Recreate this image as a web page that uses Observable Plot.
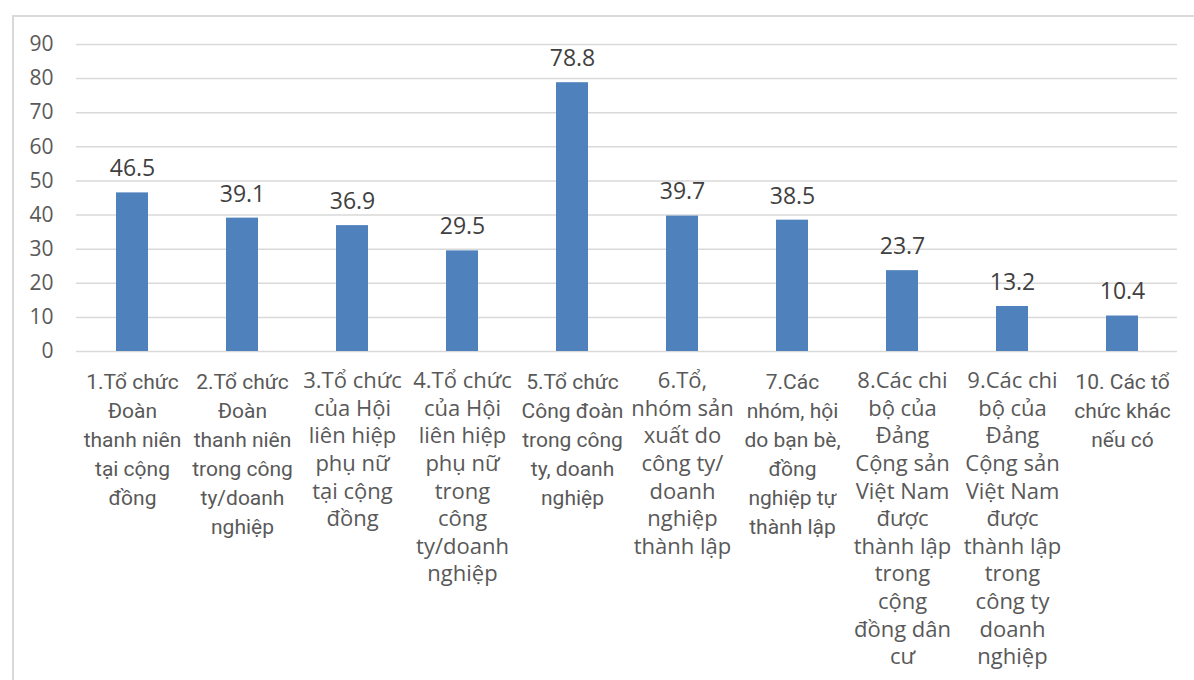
<!DOCTYPE html>
<html>
<head>
<meta charset="utf-8">
<script src="https://cdn.jsdelivr.net/npm/d3@7"></script>
<script src="https://cdn.jsdelivr.net/npm/@observablehq/plot@0.6"></script>
<style>
  html, body { margin: 0; padding: 0; background: #fff; overflow: hidden; }
  #wrap { position: relative; width: 1194px; height: 680px; }
  #frame { position: absolute; left: 12px; top: 15px; width: 1300px; height: 800px;
           border: 2px solid #d9d9d9; box-sizing: border-box; }
  #chart { position: absolute; left: 0; top: 0; }
</style>
</head>
<body>
<div id="wrap"><div id="frame"></div><div id="chart"></div></div>
<script>
// ---- data ----
const categories = [
  "1.Tổ chức\nĐoàn\nthanh niên\ntại cộng\nđồng",
  "2.Tổ chức\nĐoàn\nthanh niên\ntrong công\nty/doanh\nnghiệp",
  "3.Tổ chức\ncủa Hội\nliên hiệp\nphụ nữ\ntại cộng\nđồng",
  "4.Tổ chức\ncủa Hội\nliên hiệp\nphụ nữ\ntrong\ncông\nty/doanh\nnghiệp",
  "5.Tổ chức\nCông đoàn\ntrong công\nty, doanh\nnghiệp",
  "6.Tổ,\nnhóm sản\nxuất do\ncông ty/\ndoanh\nnghiệp\nthành lập",
  "7.Các\nnhóm, hội\ndo bạn bè,\nđồng\nnghiệp tự\nthành lập",
  "8.Các chi\nbộ của\nĐảng\nCộng sản\nViệt Nam\nđược\nthành lập\ntrong\ncộng\nđồng dân\ncư",
  "9.Các chi\nbộ của\nĐảng\nCộng sản\nViệt Nam\nđược\nthành lập\ntrong\ncông ty\ndoanh\nnghiệp",
  "10. Các tổ\nchức khác\nnếu có"
];
const values = [46.5, 39.1, 36.9, 29.5, 78.8, 39.7, 38.5, 23.7, 13.2, 10.4];
const yTicks = [0, 10, 20, 30, 40, 50, 60, 70, 80, 90];

// ---- render ----
const data = categories.map((c, i) => ({cat: c, value: values[i], i}));
const smallIdx = new Set([0, 1, 4, 6, 9]);
const smallData = data.filter(d => smallIdx.has(d.i));
const largeData = data.filter(d => !smallIdx.has(d.i));
const textColor = "#595959";

const chart = Plot.plot({
  width: 1194,
  height: 680,
  marginTop: 44,
  marginBottom: 329,
  marginLeft: 76,
  marginRight: 17,
  style: {fontFamily: "'Open Sans', sans-serif", background: "transparent"},
  x: {domain: categories, paddingInner: 0.71, paddingOuter: 0.355, axis: null},
  y: {domain: [0, 90], axis: null},
  marks: [
    Plot.gridY(yTicks, {stroke: "#d9d9d9", strokeOpacity: 1, strokeWidth: 1.5}),
    Plot.axisY(yTicks, {tickSize: 0, tickPadding: 23, fontSize: 21, fill: textColor, label: null,
                        fontFamily: "'Open Sans', sans-serif"}),
    Plot.barY(data, {x: "cat", y: "value", fill: "#4f81bd"}),
    Plot.text(data, {x: "cat", y: "value", text: d => d.value.toFixed(1), dy: -24,
                     fontSize: 23, fill: "#404040", fontFamily: "'Open Sans', sans-serif"}),
    Plot.text(smallData, {x: "cat", y: 0, text: "cat", lineAnchor: "top", dy: 17,
                          fontSize: 21, lineHeight: 1.38, fill: textColor,
                          fontFamily: "Roboto, sans-serif"}),
    Plot.text(largeData, {x: "cat", y: 0, text: "cat", lineAnchor: "top", dy: 17,
                          fontSize: 22, lineHeight: 1.255, fill: textColor,
                          fontFamily: "'Open Sans', sans-serif"})
  ]
});
document.getElementById("chart").appendChild(chart);
</script>
</body>
</html>
